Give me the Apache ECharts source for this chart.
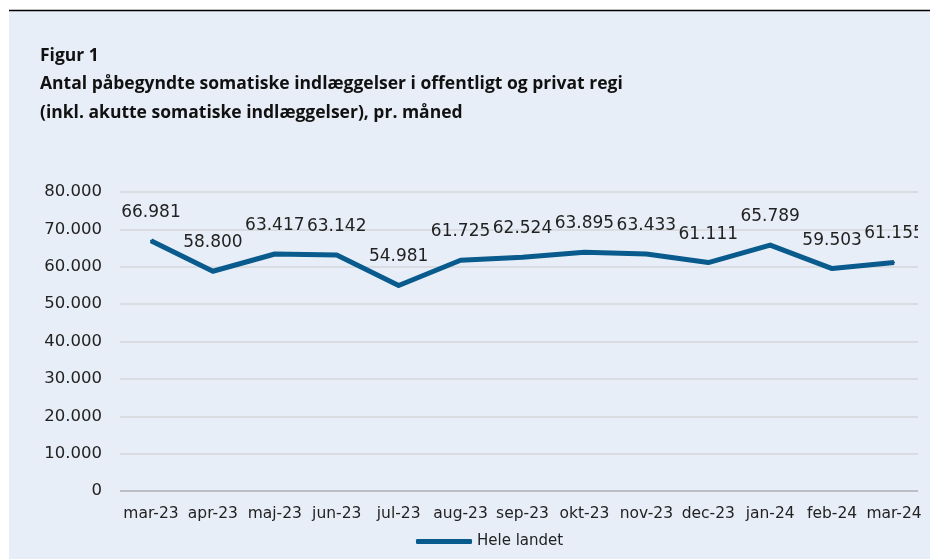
<!DOCTYPE html>
<html><head><meta charset="utf-8">
<script src="https://cdn.jsdelivr.net/npm/echarts@6/dist/echarts.min.js"></script>
<style>html,body{margin:0;padding:0;background:#fff}#c{width:930px;height:559px}</style>
</head><body><div id="c"></div>
<script>
const categories = ['mar-23','apr-23','maj-23','jun-23','jul-23','aug-23','sep-23','okt-23','nov-23','dec-23','jan-24','feb-24','mar-24'];
const values = [66981, 58800, 63417, 63142, 54981, 61725, 62524, 63895, 63433, 61111, 65789, 59503, 61155];
const seriesName = 'Hele landet';
const yTicks = [0, 10000, 20000, 30000, 40000, 50000, 60000, 70000, 80000];
const titleLines = ['Figur 1', 'Antal påbegyndte somatiske indlæggelser i offentligt og privat regi', '(inkl. akutte somatiske indlæggelser), pr. måned'];

const fmt = v => v === 0 ? '0' : String(v).replace(/\B(?=(\d{3})+(?!\d))/g, '.');
const bg = '#e8eef7';
const numFont = '"DejaVu Sans", sans-serif';
const titleFont = 'bold 17.5px "Open Sans", "Noto Sans", sans-serif';
const chart = echarts.init(document.getElementById('c'));
chart.setOption({
  backgroundColor: '#ffffff',
  animation: false,
  graphic: [
    {type:'rect', shape:{x:9,y:11,width:921,height:548}, style:{fill:bg}, z:-10, silent:true},
    {type:'line', shape:{x1:9,y1:10.5,x2:930,y2:10.5}, style:{stroke:'#000',lineWidth:1.5}, z:-5},
    {type:'text', x:40, y:56.5, style:{text:titleLines[0], font:titleFont, fill:'#111', verticalAlign:'middle'}},
    {type:'text', x:40, y:84.5, style:{text:titleLines[1], font:titleFont, fill:'#111', verticalAlign:'middle'}},
    {type:'text', x:40, y:113, style:{text:titleLines[2], font:titleFont, fill:'#111', verticalAlign:'middle'}},
    {type:'rect', shape:{x:918,y:150,width:12,height:345}, style:{fill:bg}, z:100, silent:true}
  ],
  grid: {left:120, right:5, top:192, bottom:68, containLabel:false},
  legend: {
    data:[seriesName], top:529, left:411, itemWidth:56, itemHeight:5, itemGap:5,
    icon:'roundRect',
    textStyle:{fontFamily:numFont, fontSize:15, color:'#222'}
  },
  xAxis: {
    type:'category', data:categories, boundaryGap:true,
    axisLine:{show:false}, axisTick:{show:false},
    axisLabel:{interval:0, margin:15, fontFamily:numFont, fontSize:15.5, color:'#222'}
  },
  yAxis: {
    type:'value', min:yTicks[0], max:yTicks[yTicks.length-1], interval:10000,
    axisLine:{show:false}, axisTick:{show:false},
    axisLabel:{margin:18, fontFamily:numFont, fontSize:16.5, color:'#222', formatter: fmt},
    splitLine:{lineStyle:{color:'#d4d6da', width:1.5}}
  },
  series: [{
    name:seriesName, type:'line', data:values, symbol:'circle', symbolSize:2, showSymbol:true,
    lineStyle:{color:'#085b8c', width:5, join:'round'},
    itemStyle:{color:'#085b8c'},
    label:{show:true, position:'top', distance:19, fontFamily:numFont, fontSize:17, color:'#222', formatter: p => fmt(p.value)},
    labelLayout:{hideOverlap:false},
    markLine:{silent:true, symbol:'none', label:{show:false}, data:[{yAxis:0}], lineStyle:{color:'#b4b6ba', width:1.5, type:'solid'}}
  }]
});
</script></body></html>
